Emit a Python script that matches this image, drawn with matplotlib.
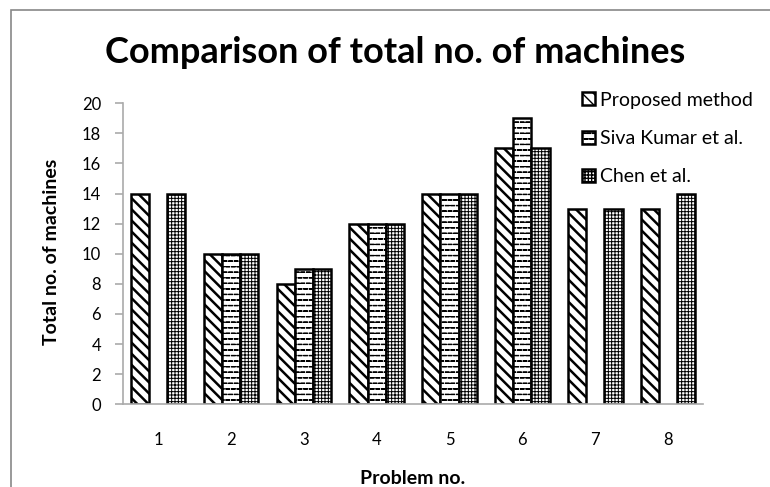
import matplotlib
matplotlib.use("Agg")
import matplotlib.pyplot as plt
import matplotlib.hatch as mhatch
from matplotlib.path import Path
import numpy as np
from matplotlib.patches import Rectangle

problems = ["1", "2", "3", "4", "5", "6", "7", "8"]
proposed = [14, 10, 8, 12, 14, 17, 13, 13]
siva_kumar = [None, 10, 9, 12, 14, 19, None, None]
chen = [14, 10, 9, 12, 14, 17, 13, 14]
series_names = ["Proposed method", "Siva Kumar et al.", "Chen et al."]
yticks = [0, 2, 4, 6, 8, 10, 12, 14, 16, 18, 20]


# short staggered dash hatch (used via the '*' character)
class DashHatch(mhatch.Shapes):
    size = 0.32
    filled = False

    def __init__(self, hatch, density):
        self.num_rows = hatch.count('*') * density
        self.shape_vertices = np.array([[-1.0, 0.0], [1.0, 0.0]])
        self.shape_codes = np.array([Path.MOVETO, Path.LINETO], dtype=Path.code_type)
        super().__init__(hatch, density)


mhatch._hatch_types = [t for t in mhatch._hatch_types if t is not mhatch.Stars] + [DashHatch]

plt.rcParams['font.family'] = ['Lato', 'DejaVu Sans']
plt.rcParams['hatch.linewidth'] = 1.0

fig = plt.figure(figsize=(7.7, 4.87), dpi=100)
ax = fig.add_axes([0.16, 0.170, 0.753, 0.618])

x = np.arange(1, len(problems) + 1)
w = 0.25
hatches = ["\\\\\\", "***", "+++++"]
hatch_lw = [1.8, 0.9, 0.7]
all_series = [proposed, siva_kumar, chen]
handles = []
for i, (vals, name, h) in enumerate(zip(all_series, series_names, hatches)):
    v = np.array([np.nan if a is None else a for a in vals], dtype=float)
    bars = ax.bar(x + (i - 1) * w, v, width=w, facecolor="white", edgecolor="black",
                  linewidth=1.8, hatch=h, label=name)
    for b in bars:
        try:
            b.set_hatch_linewidth(hatch_lw[i])
        except Exception:
            pass
    handles.append(bars)

ax.set_xlim(0.52, 8.48)
ax.set_ylim(0, 20)
ax.set_xticks(x)
ax.set_xticklabels(problems, fontsize=12)
ax.set_yticks(yticks)
ax.set_yticklabels([str(t) for t in yticks], fontsize=12)
for s in ["top", "right"]:
    ax.spines[s].set_visible(False)
for s in ["left", "bottom"]:
    ax.spines[s].set_color("#aaaaaa")
    ax.spines[s].set_linewidth(1.2)
ax.tick_params(axis="y", direction="out", length=6, color="#aaaaaa", width=1.2, pad=10)
ax.tick_params(axis="x", length=0, pad=20)

fig.text(0.5136, 1 - 63 / 487, "Comparison of total no. of machines", ha="center", va="baseline",
         fontsize=26, fontweight="bold")
fig.text(0.0675, 0.4825, "Total no. of machines", ha="center", va="center", rotation=90,
         fontsize=14, fontweight="bold")
fig.text(0.5364, 0.017, "Problem no.", ha="center", va="center", fontsize=14, fontweight="bold")

leg = fig.legend(handles=handles, labels=series_names, loc="upper left",
                 bbox_to_anchor=(0.733, 0.848), frameon=False, fontsize=14,
                 handlelength=0.65, handleheight=0.65, handletextpad=0.3, labelspacing=1.1)

fig.patches.append(Rectangle((10.5 / 770, -0.05), 1.2, 1 - 10 / 487 + 0.05, transform=fig.transFigure,
                             fill=False, edgecolor="#888888", linewidth=1.2))

fig.savefig("out.png", dpi=100)
